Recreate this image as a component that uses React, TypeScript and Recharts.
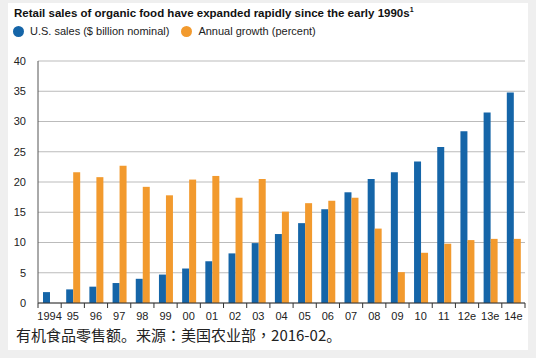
import React from 'react';
import { BarChart, Bar, XAxis, YAxis, CartesianGrid, Legend } from 'recharts';

const years = ['1994', '95', '96', '97', '98', '99', '00', '01', '02', '03', '04', '05', '06', '07', '08', '09', '10', '11', '12e', '13e', '14e'];
const usSales = [1.8, 2.25, 2.7, 3.3, 4.0, 4.7, 5.7, 6.9, 8.2, 9.9, 11.4, 13.2, 15.5, 18.3, 20.5, 21.6, 23.4, 25.8, 28.4, 31.5, 34.8];
const annualGrowth = [null, 21.6, 20.8, 22.7, 19.2, 17.8, 20.4, 21.0, 17.4, 20.5, 15.1, 16.5, 16.9, 17.4, 12.3, 5.1, 8.3, 9.8, 10.4, 10.6, 10.6];
const yTicks = [0, 5, 10, 15, 20, 25, 30, 35, 40];

const data = years.map((year, i) => ({ year, sales: usSales[i], growth: annualGrowth[i] }));

const BLUE = '#1565a8';
const ORANGE = '#f29a2e';
const FONT = '"Liberation Sans", Arial, sans-serif';
const CJK = '"Noto Sans CJK SC", sans-serif';
const CJK_MID = '"Noto Sans CJK TC", "Noto Sans CJK SC", sans-serif'; // centred ：and ，

// category label plus a tick mark on the band boundary
const YearTick = (props: any) => {
  const { x, y, payload, index } = props;
  const half = payload.offset || 0;
  const top = y - 9;
  return (
    <g>
      <line x1={x - half} x2={x - half} y1={top} y2={top + 5} stroke="#333" />
      {index === years.length - 1 && (
        <line x1={x + half} x2={x + half} y1={top} y2={top + 5} stroke="#333" />
      )}
      <text x={x} y={y} dy="0.71em" textAnchor="middle" fontSize={11} fill="#222" fontFamily={FONT}>
        {payload.value}
      </text>
    </g>
  );
};

// legend in series order: blue first, then orange
const LegendRow = (props: any) => {
  const items = props.payload || [];
  const order = ['sales', 'growth'];
  const sorted = [...items].sort((a: any, b: any) => order.indexOf(a.dataKey) - order.indexOf(b.dataKey));
  return (
    <div style={{ display: 'flex', alignItems: 'center', fontFamily: FONT, fontSize: 11, color: '#222' }}>
      {sorted.map((item: any) => (
        <div key={item.dataKey} style={{ display: 'flex', alignItems: 'center', marginRight: 12 }}>
          <span
            style={{
              display: 'inline-block',
              width: 11,
              height: 11,
              borderRadius: '50%',
              background: item.color,
              marginRight: 6,
            }}
          />
          <span>{item.value}</span>
        </div>
      ))}
    </div>
  );
};

export default function App() {
  return (
    <div style={{ position: 'fixed', left: 0, top: 0, width: 536, height: 358, background: '#efefef' }}>
      <div style={{ position: 'absolute', left: 8, top: 3, width: 520, height: 347, background: '#fff' }} />
      <div
        style={{
          position: 'absolute',
          left: 14,
          top: 6,
          fontFamily: FONT,
          fontWeight: 'bold',
          fontSize: 11.5,
          color: '#111',
          whiteSpace: 'nowrap',
        }}
      >
        Retail sales of organic food have expanded rapidly since the early 1990s<sup style={{ fontSize: 7 }}>1</sup>
      </div>
      <div style={{ position: 'absolute', left: 0, top: 0 }}>
        <BarChart
          width={536}
          height={358}
          data={data}
          margin={{ top: 49, right: 11, bottom: 35, left: 8 }}
          barGap={0}
          barSize={7}
        >
          <CartesianGrid vertical={false} stroke="#bbb" />
          <XAxis
            dataKey="year"
            interval={0}
            tickLine={false}
            tickSize={5}
            tickMargin={4}
            height={20}
            axisLine={{ stroke: '#333' }}
            tick={<YearTick />}
          />
          <YAxis
            width={30}
            domain={[0, 40]}
            ticks={yTicks}
            tickLine={false}
            tickSize={6}
            tickMargin={6}
            axisLine={{ stroke: '#555' }}
            tick={{ fontSize: 11, fill: '#222', fontFamily: FONT }}
          />
          <Legend
            verticalAlign="top"
            align="left"
            content={<LegendRow />}
            wrapperStyle={{ top: 25, left: 13, width: 'auto' }}
          />
          <Bar dataKey="sales" name="U.S. sales ($ billion nominal)" fill={BLUE} isAnimationActive={false} />
          <Bar dataKey="growth" name="Annual growth (percent)" fill={ORANGE} isAnimationActive={false} />
        </BarChart>
      </div>
      <div
        style={{
          position: 'absolute',
          left: 16,
          top: 325,
          fontFamily: CJK,
          fontSize: 15,
          lineHeight: '20px',
          color: '#222',
          whiteSpace: 'nowrap',
        }}
      >
        有机食品零售额。来源<span style={{ fontFamily: CJK_MID }}>：</span>美国农业部
        <span style={{ fontFamily: CJK_MID }}>，</span>2016-02。
      </div>
    </div>
  );
}
